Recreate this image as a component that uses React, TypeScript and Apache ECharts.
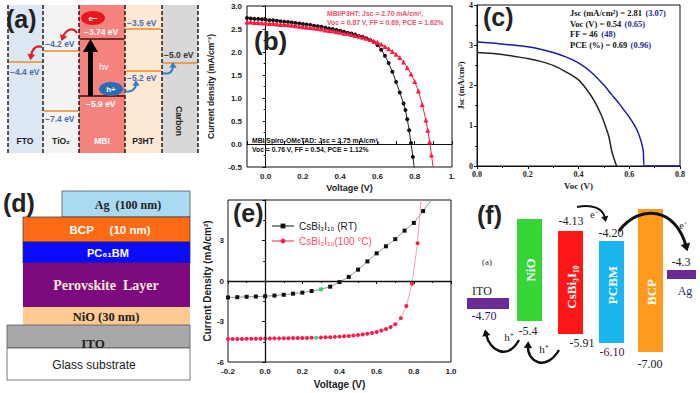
import React, { useEffect, useRef } from "react";
import * as echarts from "echarts";

// ---------- (b) J-V of MBI cells ----------
const B_SPIRO_V = [-0.1, -0.08, -0.06, -0.04, -0.02, 0, 0.02, 0.04, 0.06, 0.08, 0.1, 0.12, 0.14, 0.16, 0.18, 0.2, 0.22, 0.24, 0.26, 0.28, 0.3, 0.32, 0.34, 0.36, 0.38, 0.4, 0.42, 0.44, 0.46, 0.48, 0.5, 0.52, 0.54, 0.56, 0.58, 0.6, 0.62, 0.64, 0.66, 0.68, 0.7, 0.72, 0.74, 0.75, 0.76, 0.77, 0.78, 0.79, 0.8];
const B_SPIRO_J = [2.74, 2.73, 2.72, 2.72, 2.71, 2.7, 2.69, 2.69, 2.68, 2.67, 2.66, 2.65, 2.64, 2.63, 2.62, 2.61, 2.6, 2.59, 2.57, 2.56, 2.55, 2.53, 2.51, 2.5, 2.48, 2.46, 2.44, 2.42, 2.4, 2.38, 2.35, 2.33, 2.3, 2.26, 2.22, 2.15, 2.05, 1.92, 1.76, 1.57, 1.35, 1.12, 0.88, 0.74, 0.54, 0.3, 0.02, -0.28, -0.6];
const B_P3HT_V = [-0.1, -0.08, -0.06, -0.04, -0.02, 0, 0.02, 0.04, 0.06, 0.08, 0.1, 0.12, 0.14, 0.16, 0.18, 0.2, 0.22, 0.24, 0.26, 0.28, 0.3, 0.32, 0.34, 0.36, 0.38, 0.4, 0.42, 0.44, 0.46, 0.48, 0.5, 0.52, 0.54, 0.56, 0.58, 0.6, 0.62, 0.64, 0.66, 0.68, 0.7, 0.72, 0.74, 0.76, 0.78, 0.8, 0.82, 0.84, 0.86, 0.87, 0.88, 0.89, 0.9];
const B_P3HT_J = [2.65, 2.65, 2.64, 2.64, 2.63, 2.63, 2.62, 2.62, 2.61, 2.6, 2.6, 2.59, 2.58, 2.57, 2.56, 2.55, 2.54, 2.53, 2.52, 2.51, 2.5, 2.48, 2.47, 2.46, 2.44, 2.43, 2.41, 2.4, 2.38, 2.36, 2.34, 2.32, 2.3, 2.27, 2.24, 2.21, 2.17, 2.12, 2.07, 2.01, 1.95, 1.88, 1.78, 1.66, 1.52, 1.36, 1.15, 0.86, 0.52, 0.3, 0.05, -0.24, -0.55];
const B_TEXT_P3HT = ["MBI/P3HT: Jsc = 2.70 mA/cm², ", "Voc = 0.87 V, FF = 0.69, PCE = 1.62%"];
const B_TEXT_SPIRO = ["MBI/Spiro-OMeTAD: Jsc = 2.75 mA/cm²,", "Voc = 0.76 V, FF = 0.54, PCE = 1.12%"];

// ---------- (c) Jsc-Voc ----------
const C_BLUE_V = [0, 0.05, 0.1, 0.15, 0.2, 0.25, 0.3, 0.35, 0.4, 0.45, 0.5, 0.53, 0.56, 0.59, 0.61, 0.63, 0.645, 0.655, 0.66, 0.7, 0.8];
const C_BLUE_J = [3.08, 3.06, 3.03, 3.0, 2.96, 2.9, 2.82, 2.71, 2.56, 2.33, 2.01, 1.78, 1.55, 1.3, 1.12, 0.9, 0.65, 0.38, 0, 0, 0];
const C_BLACK_V = [0, 0.05, 0.1, 0.15, 0.2, 0.25, 0.3, 0.35, 0.4, 0.43, 0.46, 0.49, 0.51, 0.52, 0.53, 0.54, 0.55];
const C_BLACK_J = [2.82, 2.8, 2.77, 2.72, 2.67, 2.6, 2.5, 2.34, 2.14, 1.92, 1.64, 1.26, 0.92, 0.72, 0.4, 0.18, 0];
const C_PARAMS = [
  ["Jsc (mA/cm²) = 2.81", "(3.07)"],
  ["Voc (V) = 0.54", "(0.65)"],
  ["FF = 46", "(48)"],
  ["PCE (%) = 0.69", "(0.96)"],
];

// ---------- (e) CsBi3I10 ----------
const E_RT_V = [-0.2, -0.15, -0.1, -0.05, 0, 0.05, 0.1, 0.15, 0.2, 0.25, 0.3, 0.35, 0.4, 0.45, 0.5, 0.55, 0.6, 0.65, 0.7, 0.75, 0.8, 0.85, 0.9];
const E_RT_J = [-1.22, -1.2, -1.17, -1.15, -1.13, -1.08, -1.02, -0.94, -0.86, -0.74, -0.62, -0.42, -0.08, 0.3, 0.84, 1.45, 2.05, 2.57, 3.1, 3.73, 4.3, 5.18, 6.1];
const E_HT_V = [-0.2, -0.175, -0.15, -0.125, -0.1, -0.075, -0.05, -0.025, 0, 0.025, 0.05, 0.075, 0.1, 0.125, 0.15, 0.175, 0.2, 0.225, 0.25, 0.275, 0.3, 0.325, 0.35, 0.375, 0.4, 0.425, 0.45, 0.475, 0.5, 0.525, 0.55, 0.575, 0.6, 0.625, 0.65, 0.675, 0.7, 0.73, 0.76, 0.79, 0.82, 0.84];
const E_HT_J = [-4.3, -4.3, -4.29, -4.29, -4.28, -4.28, -4.27, -4.27, -4.26, -4.26, -4.25, -4.25, -4.24, -4.24, -4.23, -4.23, -4.22, -4.22, -4.21, -4.2, -4.19, -4.17, -4.16, -4.14, -4.12, -4.1, -4.07, -4.04, -4.0, -3.96, -3.91, -3.85, -3.77, -3.67, -3.55, -3.4, -3.2, -2.75, -1.85, -0.2, 2.8, 6.2];
const E_RT_GREEN_V = 0.3;
const E_HT_GREEN_V = 0.275;
const E_NAMES = ["CsBi₃I₁₀ (RT)", "CsBi₃I₁₀(100 °C)"];

const SANS = '"Liberation Sans", Arial, sans-serif';
const SERIF = '"Liberation Serif", "Times New Roman", serif';

function txt(x: number, y: number, text: string, o: any = {}) {
  const align = o.align || "left";
  const va = o.va || "middle";
  return {
    type: "text",
    x,
    y,
    rotation: o.rotation || 0,
    z: 100,
    silent: true,
    style: {
      text,
      fill: o.color || "#222",
      font: `${o.weight || "bold"} ${o.size || 9}px ${o.family || SANS}`,
      align,
      verticalAlign: va,
      textAlign: align,
      textVerticalAlign: va,
      rich: o.rich,
    },
  };
}
function rect(x: number, y: number, w: number, h: number, fill: string, stroke?: string, lw = 0.8) {
  return { type: "rect", shape: { x, y, width: w, height: h }, style: { fill, stroke: stroke || null, lineWidth: lw }, silent: true };
}
function line(x1: number, y1: number, x2: number, y2: number, stroke: string, lw = 1.5, dash?: number[]) {
  return { type: "line", shape: { x1, y1, x2, y2 }, style: { stroke, lineWidth: lw, lineDash: dash || null }, silent: true };
}
function curve(p: number[], stroke: string, lw: number) {
  const [x1, y1, cpx1, cpy1, cpx2, cpy2, x2, y2] = p;
  const ang = Math.atan2(y2 - cpy2, x2 - cpx2);
  const s = lw * 2.4 + 2;
  const a1 = ang + Math.PI * 0.82;
  const a2 = ang - Math.PI * 0.82;
  const tx = x2 + Math.cos(ang) * s * 0.6;
  const ty = y2 + Math.sin(ang) * s * 0.6;
  return [
    { type: "bezierCurve", shape: { x1, y1, cpx1, cpy1, cpx2, cpy2, x2, y2 }, style: { stroke, lineWidth: lw, fill: null }, silent: true },
    {
      type: "polygon",
      shape: { points: [[tx, ty], [tx + s * Math.cos(a1), ty + s * Math.sin(a1)], [tx + s * Math.cos(a2), ty + s * Math.sin(a2)]] },
      style: { fill: stroke },
      silent: true,
    },
  ];
}

function buildGraphic() {
  const g: any[] = [];
  // ---------------- (a) ----------------
  const cols = [
    { x: 8, w: 35, fill: "#dde7f3" },
    { x: 43, w: 36, fill: "#f3f3f3" },
    { x: 79, w: 46, fill: "#f4837e" },
    { x: 125, w: 37, fill: "#fde8d4" },
    { x: 162, w: 36, fill: "#d8d8d8" },
  ];
  cols.forEach((c) => g.push(rect(c.x, 5, c.w, 148, c.fill)));
  [8, 43, 79, 125, 162, 198].forEach((x) => g.push(line(x, 5, x, 153, "#111", 1.4, [4, 2])));
  const OR = "#f08a2a";
  g.push(line(9, 62, 42, 62, OR));
  g.push(line(44, 51, 78, 51, OR));
  g.push(line(44, 111, 78, 111, OR));
  g.push(line(80, 39, 124, 39, "#7a2a2a", 2));
  g.push(line(80, 96, 124, 96, "#6a2424", 2));
  g.push(line(126, 29, 161, 29, OR));
  g.push(line(126, 71, 161, 71, OR));
  g.push(line(163, 63, 197, 63, OR));
  const BL = "#4a6eae";
  g.push(txt(10, 72, "−4.4 eV", { color: BL, size: 8.5 }));
  g.push(txt(45, 44, "−4.2 eV", { color: BL, size: 8.5 }));
  g.push(txt(45, 119, "−7.4 eV", { color: BL, size: 8.5 }));
  g.push(txt(84, 32, "−3.74 eV", { color: "#fff", size: 8.5 }));
  g.push(txt(86, 104, "−5.9 eV", { color: "#fff", size: 8.5 }));
  g.push(txt(127, 23, "−3.5 eV", { color: BL, size: 8.5 }));
  g.push(txt(127, 78, "−5.2 eV", { color: BL, size: 8.5 }));
  g.push(txt(164, 55, "−5.0 eV", { color: "#333", size: 8.5 }));
  g.push(txt(25, 141, "FTO", { align: "center", size: 8.5 }));
  g.push(txt(61, 141, "TiO₂", { align: "center", size: 8.5 }));
  g.push(txt(102, 141, "MBI", { align: "center", size: 8.5, color: "#fff" }));
  g.push(txt(143, 141, "P3HT", { align: "center", size: 8.5 }));
  g.push(txt(179, 121, "Carbon", { align: "center", size: 8.5, rotation: -Math.PI / 2 }));
  // e- and h+
  g.push({ type: "ellipse", shape: { cx: 93, cy: 18, rx: 12, ry: 7 }, style: { fill: "#e8141e" }, silent: true });
  g.push(txt(93, 18, "e−", { align: "center", size: 8, color: "#fff" }));
  g.push({ type: "ellipse", shape: { cx: 111, cy: 89, rx: 12, ry: 7 }, style: { fill: "#2b6db4" }, silent: true });
  g.push(txt(111, 89, "h+", { align: "center", size: 8, color: "#fff" }));
  // hv arrow
  g.push(rect(88, 51, 5, 45, "#000"));
  g.push({ type: "polygon", shape: { points: [[83, 52], [98, 52], [90.5, 39]] }, style: { fill: "#000" }, silent: true });
  g.push(txt(99, 67, "hv", { size: 9, color: "#fff", weight: "normal" }));
  curve([77, 33, 73, 27, 66, 29, 63, 37], "#e0202a", 2.2).forEach((e) => g.push(e));
  curve([42, 47, 36, 45, 32, 49, 31, 56], "#e0202a", 2.2).forEach((e) => g.push(e));
  curve([124, 91, 131, 93, 136, 89, 136, 84], "#3a7cc0", 2).forEach((e) => g.push(e));
  curve([163, 73, 170, 75, 173, 71, 173, 66], "#3a7cc0", 2).forEach((e) => g.push(e));
  g.push(txt(6, 19, "(a)", { size: 25 }));

  // ---------------- (b) texts ----------------
  g.push(txt(327, 13, B_TEXT_P3HT[0], { size: 6.8, color: "#f0506e" }));
  g.push(txt(327, 22, B_TEXT_P3HT[1], { size: 6.8, color: "#f0506e" }));
  g.push(txt(252, 140, B_TEXT_SPIRO[0], { size: 6.8, color: "#111" }));
  g.push(txt(252, 149, B_TEXT_SPIRO[1], { size: 6.8, color: "#111" }));
  g.push(txt(254, 41, "(b)", { size: 26 }));

  // ---------------- (c) texts ----------------
  C_PARAMS.forEach((p, i) => {
    g.push({
      type: "text",
      x: 570,
      y: 13 + i * 10.7,
      z: 100,
      silent: true,
      style: {
        text: `{a|${p[0]}} {b|${p[1]}}`,
        align: "left",
        verticalAlign: "middle",
        textAlign: "left",
        textVerticalAlign: "middle",
        rich: {
          a: { fill: "#111", fontSize: 8.5, fontWeight: "bold", fontFamily: SERIF },
          b: { fill: "#2a2a9a", fontSize: 8.5, fontWeight: "bold", fontFamily: SERIF },
        },
      },
    });
  });
  g.push(txt(483, 17, "(c)", { size: 25 }));

  // ---------------- (d) ----------------
  g.push(rect(62, 191, 128, 26, "#aad9f2", "#555"));
  g.push(rect(23, 217, 167, 25, "#ff6a14", "#444"));
  g.push(rect(23, 242, 167, 21, "#0a0aff", "#333"));
  g.push(rect(23, 263, 167, 44, "#7d0a7d"));
  g.push(rect(23, 307, 167, 18, "#fcca92"));
  g.push(rect(7, 325, 183, 23, "#a8a8a8", "#555"));
  g.push(rect(7, 348, 183, 32, "#ffffff", "#555"));
  g.push(txt(128, 205, "Ag  (100 nm)", { align: "center", size: 12, family: SERIF, color: "#222" }));
  g.push(txt(110, 230, "BCP     (10 nm)", { align: "center", size: 11.5, color: "#fff" }));
  g.push(txt(108, 253, "PC₆₁BM", { align: "center", size: 11, color: "#fff" }));
  g.push(txt(106, 285, "Perovskite  Layer", { align: "center", size: 14, family: SERIF, color: "#f4eadc" }));
  g.push(txt(106, 317, "NiO (30 nm)", { align: "center", size: 12.5, family: SERIF, color: "#222" }));
  g.push(txt(93, 343, "ITO", { align: "center", size: 13, family: SERIF, color: "#222" }));
  g.push(txt(94, 365, "Glass substrate", { align: "center", size: 12, weight: "normal", color: "#222" }));
  g.push(txt(3, 203, "(d)", { size: 25 }));

  // ---------------- (e) label ----------------
  g.push(txt(233, 213, "(e)", { size: 25 }));

  // ---------------- (f) ----------------
  g.push(rect(517, 219, 25, 102, "#36d636"));
  g.push(rect(558, 231, 25, 103, "#ff1616"));
  g.push(rect(599, 241, 25, 102, "#1ab4ee"));
  g.push(rect(638, 209, 25, 143, "#ff9a1e"));
  g.push(rect(467, 298, 42, 11, "#6a2c94"));
  g.push(rect(667, 270, 29, 9, "#6a2c94"));
  g.push(txt(530, 270, "NiO", { align: "center", size: 13, family: SERIF, color: "#fff", rotation: Math.PI / 2 }));
  g.push(txt(571, 287, "CsBi₃I₁₀", { align: "center", size: 13, family: SERIF, color: "#fff", rotation: Math.PI / 2 }));
  g.push(txt(612, 285, "PCBM", { align: "center", size: 13, family: SERIF, color: "#fff", rotation: Math.PI / 2 }));
  g.push(txt(651, 292, "BCP", { align: "center", size: 13, family: SERIF, color: "#fff", rotation: Math.PI / 2 }));
  const fl = (x: number, y: number, t: string, c = "#222", s = 12) => g.push(txt(x, y, t, { align: "center", size: s, weight: "normal", family: SERIF, color: c }));
  fl(571, 221, "-4.13");
  fl(594, 214, "e⁻", "#222", 10);
  fl(611, 233, "-4.20");
  fl(683, 225, "e⁻", "#222", 10);
  fl(681, 262, "-4.3");
  fl(685, 291, "Ag", "#2a2a6a");
  fl(482, 291, "ITO");
  fl(484, 316, "-4.70", "#1a1a70");
  fl(528, 331, "-5.4");
  fl(509, 337, "h⁺", "#222", 11);
  fl(544, 349, "h⁺", "#222", 11);
  fl(582, 343, "-5.91");
  fl(612, 352, "-6.10", "#4a1a3a");
  fl(650, 364, "-7.00");
  fl(487, 262, "(a)", "#333", 9);
  curve([577, 207, 592, 204, 603, 208, 605, 218], "#111", 2).forEach((e) => g.push(e));
  curve([619, 231, 640, 203, 676, 208, 686, 246], "#111", 3).forEach((e) => g.push(e));
  curve([519, 340, 508, 360, 490, 352, 486, 334], "#111", 2.4).forEach((e) => g.push(e));
  curve([559, 350, 546, 372, 527, 362, 528, 346], "#111", 2.4).forEach((e) => g.push(e));
  g.push(txt(477, 215, "(f)", { size: 25 }));
  return g;
}

const pairs = (xs: number[], ys: number[]) => xs.map((x, i) => [x, ys[i]]);

export default function App() {
  const ref = useRef<HTMLDivElement>(null);
  useEffect(() => {
    if (!ref.current) return;
    const chart = echarts.init(ref.current, null, { renderer: "svg" });
    const lab = (fam: string, size = 8) => ({ color: "#222", fontSize: size, fontWeight: "bold", fontFamily: fam });
    const ax = { lineStyle: { color: "#111", width: 1 } };
    const eRt = E_RT_V.map((v, i) => {
      const item: any = { value: [v, E_RT_J[i]] };
      if (Math.abs(v - E_RT_GREEN_V) < 1e-6) item.itemStyle = { color: "#38d46a" };
      if (i === E_RT_V.length - 1) item.symbol = "none";
      return item;
    });
    const eHt = E_HT_V.map((v, i) => {
      const item: any = { value: [v, E_HT_J[i]] };
      if (Math.abs(v - E_HT_GREEN_V) < 1e-6) item.itemStyle = { color: "#38d46a" };
      if (i === E_HT_V.length - 1) item.symbol = "none";
      return item;
    });
    const option: any = {
      animation: false,
      backgroundColor: "#ffffff",
      grid: [
        { left: 247, top: 6, width: 205, height: 161, show: true, borderColor: "#111", borderWidth: 1 },
        { left: 477, top: 5, width: 203, height: 161, show: true, borderColor: "#111", borderWidth: 1 },
        { left: 228, top: 200, width: 223, height: 162, show: true, borderColor: "#111", borderWidth: 1 },
      ],
      xAxis: [
        {
          type: "value", gridIndex: 0, min: -0.1, max: 1.0, interval: 0.1,
          axisLine: ax, splitLine: { show: false },
          axisTick: { inside: true, length: 3, lineStyle: { color: "#111" } },
          axisLabel: {
            ...lab(SANS, 8), margin: 5,
            formatter: (v: number) => {
              const k = Math.round(v * 10);
              if (k % 2 !== 0) return "";
              return k === 10 ? "1." : (k / 10).toFixed(1);
            },
          },
          name: "Voltage (V)", nameLocation: "middle", nameGap: 16,
          nameTextStyle: lab(SANS, 9),
        },
        {
          type: "value", gridIndex: 1, min: 0, max: 0.8, interval: 0.2,
          axisLine: ax, splitLine: { show: false },
          axisTick: { length: 3, lineStyle: { color: "#111" } },
          minorTick: { show: true, splitNumber: 2, length: 2, lineStyle: { color: "#111" } },
          axisLabel: { ...lab(SERIF, 8), margin: 4, formatter: (v: number) => v.toFixed(1) },
          name: "Voc (V)", nameLocation: "middle", nameGap: 15,
          nameTextStyle: lab(SERIF, 9),
        },
        {
          type: "value", gridIndex: 2, min: -0.2, max: 1.0, interval: 0.2,
          axisLine: ax, splitLine: { show: false },
          axisTick: { length: 3, lineStyle: { color: "#111" } },
          axisLabel: { ...lab(SANS, 8), margin: 5, formatter: (v: number) => v.toFixed(1) },
          name: "Voltage (V)", nameLocation: "middle", nameGap: 17,
          nameTextStyle: lab(SANS, 10),
        },
        {
          type: "value", gridIndex: 2, position: "top", min: -0.2, max: 1.0, interval: 0.2,
          axisLine: ax, splitLine: { show: false }, axisLabel: { show: false },
          axisTick: { inside: true, length: 3, lineStyle: { color: "#111" } },
          minorTick: { show: true, splitNumber: 2, length: 2, lineStyle: { color: "#111" } },
        },
      ],
      yAxis: [
        {
          type: "value", gridIndex: 0, min: -0.5, max: 3.0, interval: 0.5,
          axisLine: ax, splitLine: { show: false },
          axisTick: { length: 3, lineStyle: { color: "#111" } },
          minorTick: { show: true, splitNumber: 2, length: 2, lineStyle: { color: "#111" } },
          axisLabel: { ...lab(SANS, 8), margin: 5, formatter: (v: number) => v.toFixed(1) },
          name: "Current density (mA/cm⁻²)", nameLocation: "middle", nameGap: 32,
          nameTextStyle: lab(SANS, 8.5),
        },
        {
          type: "value", gridIndex: 1, min: 0, max: 4, interval: 1,
          axisLine: ax, splitLine: { show: false },
          axisTick: { length: 3, lineStyle: { color: "#111" } },
          minorTick: { show: true, splitNumber: 2, length: 2, lineStyle: { color: "#111" } },
          axisLabel: { ...lab(SERIF, 8), margin: 4 },
          name: "Jsc (mA/cm²)", nameLocation: "middle", nameGap: 12,
          nameTextStyle: lab(SERIF, 8.5),
        },
        {
          type: "value", gridIndex: 2, min: -6, max: 6, interval: 3,
          axisLine: ax, splitLine: { show: false },
          axisTick: { length: 3, lineStyle: { color: "#111" } },
          axisLabel: { ...lab(SANS, 8), margin: 4, showMaxLabel: false },
          name: "Current Density (mA/cm²)", nameLocation: "middle", nameGap: 13,
          nameTextStyle: lab(SANS, 10),
        },
        {
          type: "value", gridIndex: 2, position: "right", min: -6, max: 6, interval: 3,
          axisLine: ax, splitLine: { show: false }, axisLabel: { show: false },
          axisTick: { inside: true, length: 3, lineStyle: { color: "#111" } },
          minorTick: { show: true, splitNumber: 2, length: 2, lineStyle: { color: "#111" } },
        },
      ],
      legend: {
        left: 266, top: 216, orient: "vertical", itemWidth: 22, itemHeight: 6, itemGap: 5,
        data: [
          { name: E_NAMES[0], textStyle: { color: "#222" } },
          { name: E_NAMES[1], textStyle: { color: "#ff4a6a" } },
        ],
        textStyle: { fontSize: 10, fontFamily: SANS },
      },
      series: [
        {
          name: "MBI/Spiro-OMeTAD", type: "line", xAxisIndex: 0, yAxisIndex: 0,
          data: pairs(B_SPIRO_V, B_SPIRO_J), symbol: "circle", symbolSize: 4,
          itemStyle: { color: "#111" }, lineStyle: { color: "#222", width: 1 },
        },
        {
          name: "MBI/P3HT", type: "line", xAxisIndex: 0, yAxisIndex: 0,
          data: pairs(B_P3HT_V, B_P3HT_J), symbol: "triangle", symbolSize: 5,
          itemStyle: { color: "#ff1a44" }, lineStyle: { color: "#ff1a44", width: 1 },
        },
        {
          name: "c-black", type: "line", xAxisIndex: 1, yAxisIndex: 1, smooth: 0.3,
          data: pairs(C_BLACK_V, C_BLACK_J), showSymbol: false,
          lineStyle: { color: "#222", width: 1.5 },
        },
        {
          name: "c-blue", type: "line", xAxisIndex: 1, yAxisIndex: 1, smooth: 0.3,
          data: pairs(C_BLUE_V, C_BLUE_J), showSymbol: false,
          lineStyle: { color: "#1c1ca8", width: 1.5 },
        },
        {
          name: E_NAMES[0], type: "line", xAxisIndex: 2, yAxisIndex: 2,
          data: eRt, symbol: "rect", symbolSize: 4,
          itemStyle: { color: "#111" }, lineStyle: { color: "#8a8a8a", width: 0.9 },
          markLine: {
            silent: true, symbol: ["none", "none"], label: { show: false },
            lineStyle: { color: "#111", type: "solid", width: 1.3 },
            data: [{ xAxis: 0 }, { yAxis: 0 }],
          },
        },
        {
          name: E_NAMES[1], type: "line", xAxisIndex: 2, yAxisIndex: 2,
          data: eHt, symbol: "circle", symbolSize: 4,
          itemStyle: { color: "#ff1a4a" }, lineStyle: { color: "#ff90a4", width: 0.9 },
        },
      ],
      graphic: buildGraphic(),
    };
    chart.setOption(option);
    return () => chart.dispose();
  }, []);
  return <div ref={ref} style={{ position: "absolute", left: 0, top: 0, width: 700, height: 393 }} />;
}
